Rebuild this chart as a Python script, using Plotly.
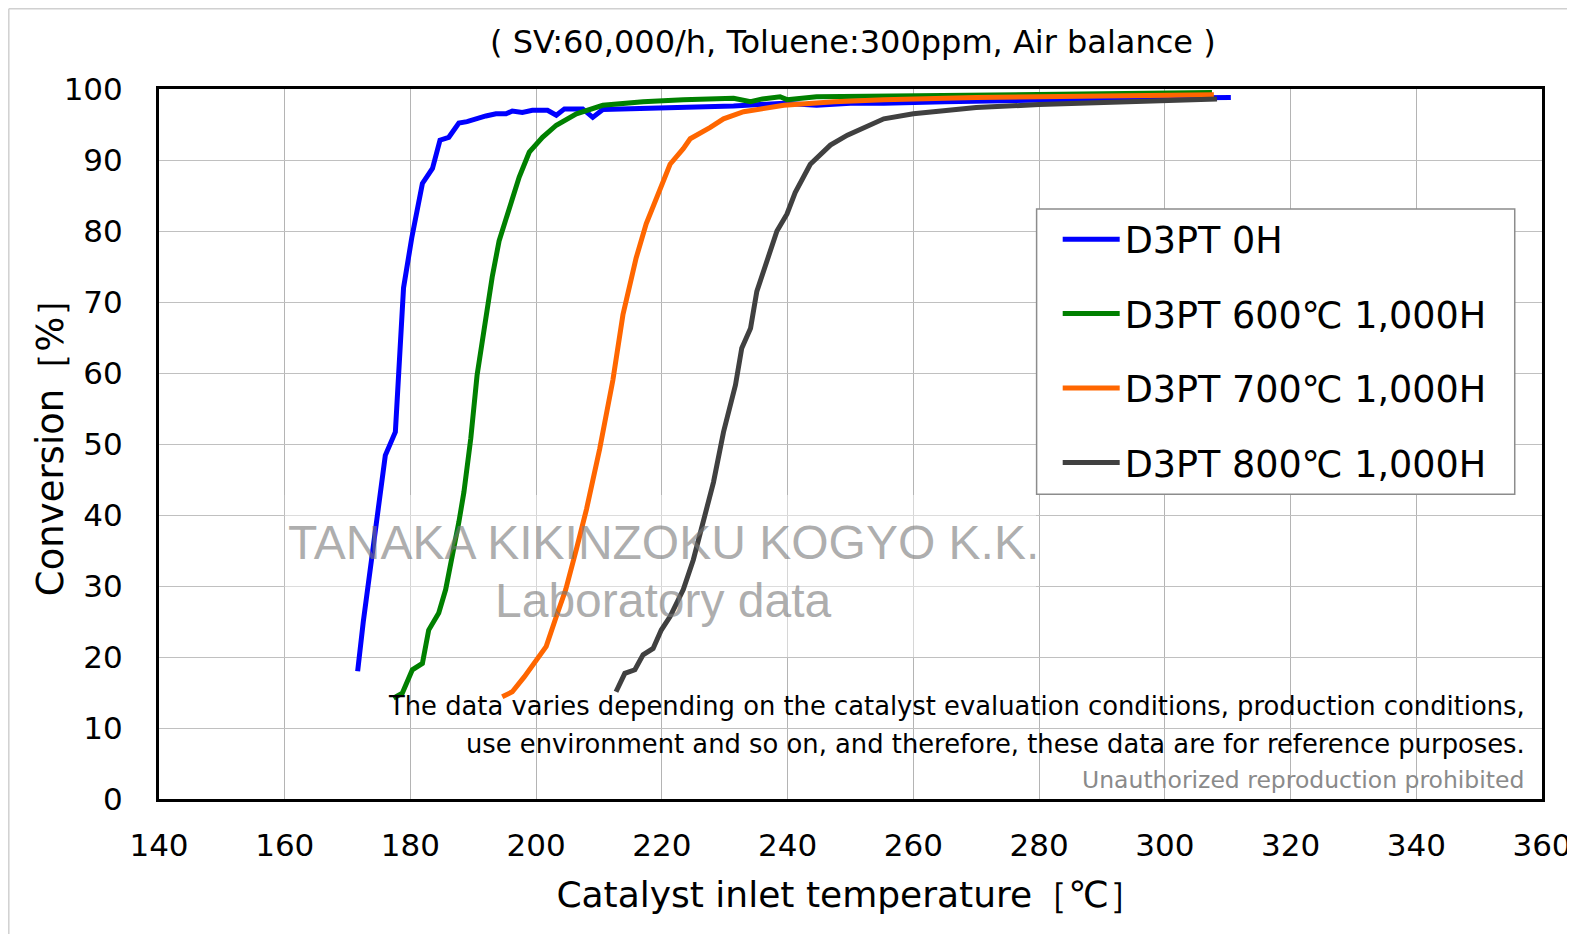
import plotly.graph_objects as go

# ---------------- data ----------------
series_names = ["D3PT 0H", "D3PT 600℃ 1,000H", "D3PT 700℃ 1,000H", "D3PT 800℃ 1,000H"]
series_colors = ["#0000FF", "#008000", "#FF6600", "#404040"]

t_0h = [171.6, 172.5, 174.0, 175.2, 176.0, 177.6, 178.1, 178.9, 180.2, 181.9, 183.5, 184.7, 186.1,
        187.7, 189.0, 190.3, 192.0, 193.6, 195.2, 196.2, 197.8, 199.4, 201.8, 203.2, 204.5, 207.4,
        209.0, 210.6, 217.0, 223.4, 231.4, 239.4, 244.6, 250.0, 255.3, 265.0, 280.0, 295.0, 310.5]
c_0h = [18.0, 25.0, 35.0, 42.5, 48.4, 51.7, 59.8, 72.0, 79.0, 86.7, 88.8, 92.8, 93.2,
        95.2, 95.4, 95.8, 96.2, 96.5, 96.5, 96.9, 96.7, 97.0, 97.0, 96.3, 97.2, 97.2,
        96.0, 97.1, 97.2, 97.4, 97.6, 98.0, 97.7, 98.0, 98.0, 98.2, 98.5, 98.7, 98.8]

t_600 = [177.3, 178.7, 180.3, 181.9, 182.9, 184.5, 185.6, 186.8, 187.7, 188.5, 189.6, 190.6, 192.0,
         193.0, 194.1, 195.7, 197.3, 198.9, 201.0, 203.2, 206.4, 210.6, 217.0, 223.4, 231.4, 234.1,
         236.0, 238.8, 239.9, 244.6, 255.3, 270.0, 285.0, 300.0, 307.5]
c_600 = [14.2, 14.9, 18.2, 19.1, 23.8, 26.2, 29.5, 34.5, 39.0, 43.2, 50.8, 59.7, 68.2,
         73.5, 78.6, 83.3, 87.6, 91.1, 93.2, 94.9, 96.5, 97.7, 98.2, 98.5, 98.7, 98.2,
         98.6, 98.9, 98.5, 98.9, 99.0, 99.2, 99.3, 99.4, 99.5]

t_700 = [194.6, 196.2, 198.1, 199.4, 201.6, 203.2, 204.7, 206.4, 208.0, 210.1, 212.2, 213.8, 215.9,
         217.5, 219.1, 221.3, 223.4, 224.5, 227.7, 229.8, 233.0, 239.4, 247.4, 255.3, 270.0, 285.0,
         300.0, 307.8]
c_700 = [14.4, 15.1, 17.2, 18.9, 21.5, 25.7, 29.5, 35.2, 40.8, 49.3, 59.0, 68.2, 76.2,
         81.0, 84.7, 89.4, 91.6, 93.0, 94.6, 95.8, 96.8, 97.7, 98.2, 98.5, 98.8, 99.0,
         99.1, 99.2]

t_800 = [212.7, 214.1, 215.7, 217.0, 218.6, 219.9, 221.3, 223.4, 225.0, 226.6, 228.2, 229.8, 231.7,
         232.7, 234.1, 235.1, 236.7, 238.3, 239.9, 241.2, 243.6, 246.8, 249.5, 252.2, 255.3, 260.0,
         265.0, 270.0, 280.0, 290.0, 300.0, 308.3]
c_800 = [15.1, 17.7, 18.2, 20.3, 21.2, 23.8, 25.7, 29.5, 33.7, 39.0, 44.6, 51.7, 58.3,
         63.5, 66.3, 71.5, 75.8, 80.0, 82.4, 85.4, 89.4, 92.1, 93.5, 94.6, 95.8, 96.5,
         97.0, 97.4, 97.8, 98.1, 98.4, 98.6]

series_t = [t_0h, t_600, t_700, t_800]
series_c = [c_0h, c_600, c_700, c_800]

x_ticks = [140, 160, 180, 200, 220, 240, 260, 280, 300, 320, 340, 360]
y_ticks = [0, 10, 20, 30, 40, 50, 60, 70, 80, 90, 100]

title_text = "( SV:60,000/h, Toluene:300ppm, Air balance )"
x_title = "Catalyst inlet temperature［℃］"
y_title = "Conversion［%］"
watermark_1 = "TANAKA KIKINZOKU KOGYO K.K."
watermark_2 = "Laboratory data"
note_1 = "The data varies depending on the catalyst evaluation conditions, production conditions,"
note_2 = "use environment and so on, and therefore, these data are for reference purposes."
note_3 = "Unauthorized reproduction prohibited"

FONT = "DejaVu Sans"

# Page body has an 8px default margin; the figure is sized to fit the window.
OFF = 8
S = 1575 / 1568          # reference measurements were taken on a 1568-wide view
W, H = 1575 - OFF, 934 - OFF


def fx(r):   # reference x -> figure pixel
    return r * S - OFF


def fy(r):   # reference y -> figure pixel
    return r * S - OFF


ML = round(fx(158))
MT = round(fy(89))
MR = round(W - fx(1535))
MB = round(H - fy(795))
PW, PH = W - ML - MR, H - MT - MB


def px(r):
    return (fx(r) - ML) / PW


def py(r):
    return (H - MB - fy(r)) / PH


# ---------------- figure ----------------
fig = go.Figure()
for i, (name, col, t, c) in enumerate(zip(series_names, series_colors, series_t, series_c)):
    fig.add_trace(go.Scatter(
        x=t, y=c, mode="lines", name=name, legendgroup=f"g{i}",
        line=dict(color=col, width=5),
    ))

fig.update_layout(
    width=W, height=H,
    margin=dict(l=ML, r=MR, t=MT, b=MB, autoexpand=False),
    paper_bgcolor="white", plot_bgcolor="white",
    font=dict(family=FONT, color="black", size=31),
    showlegend=True,
    legend=dict(
        x=px(1053), y=py(208), xanchor="left", yanchor="top",
        bgcolor="rgba(0,0,0,0)", borderwidth=0,
        font=dict(family=FONT, size=36.5, color="black"),
        traceorder="grouped", tracegroupgap=24,
        itemwidth=57,
    ),
    xaxis=dict(
        range=[140, 360], tickvals=x_ticks, ticktext=[str(v) for v in x_ticks],
        showgrid=True, gridcolor="#b4b4b4", gridwidth=1.3,
        showline=True, linecolor="black", linewidth=3, mirror=True,
        zeroline=False, ticks="", ticklabelstandoff=17, automargin=False,
        tickfont=dict(family=FONT, size=31),
        title=dict(text=x_title, font=dict(family=FONT, size=36), standoff=20),
    ),
    yaxis=dict(
        range=[0, 100], tickvals=y_ticks, ticktext=[str(v) for v in y_ticks],
        showgrid=True, gridcolor="#c0c0c0", gridwidth=1.3,
        showline=True, linecolor="black", linewidth=3, mirror=True,
        zeroline=False, ticks="", ticklabelstandoff=27, automargin=False,
        tickfont=dict(family=FONT, size=31),
    ),
)

# semi-transparent white panel behind watermark
fig.add_shape(type="rect", xref="x", yref="y", x0=160.0, x1=279.5, y0=20.0, y1=42.8,
              fillcolor="rgba(255,255,255,0.45)", line=dict(width=0), layer="between")

# legend box
fig.add_shape(type="rect", xref="paper", yref="paper", x0=px(1032), x1=px(1508), y0=py(492), y1=py(208),
              fillcolor="white", line=dict(color="#8c8c8c", width=1.5), layer="above")

# page border (left and top), drawn at the figure's edge
edge_x = (0.8 - ML) / PW
edge_y = (H - MB - 0.8) / PH
fig.add_shape(type="line", xref="paper", yref="paper", x0=edge_x, x1=1.2, y0=edge_y, y1=edge_y,
              line=dict(color="#d0d0d0", width=1.5))
fig.add_shape(type="line", xref="paper", yref="paper", x0=edge_x, x1=edge_x, y0=edge_y, y1=-0.3,
              line=dict(color="#d0d0d0", width=1.5))

annotations = [
    dict(text=title_text, xref="paper", yref="paper", x=px(849), y=py(42), xanchor="center",
         yanchor="middle", showarrow=False, font=dict(family=FONT, size=32)),
    dict(text=y_title, xref="paper", yref="paper", x=px(51), y=py(436), xanchor="center",
         yanchor="middle", textangle=-90, showarrow=False, font=dict(family=FONT, size=37)),
    dict(text=watermark_1, xref="x", yref="y", x=220.3, y=36.1, xanchor="center", yanchor="middle",
         showarrow=False, font=dict(family="Liberation Sans", size=48, color="rgba(120,120,120,0.6)")),
    dict(text=watermark_2, xref="x", yref="y", x=220.3, y=27.9, xanchor="center", yanchor="middle",
         showarrow=False, font=dict(family="Liberation Sans", size=48, color="rgba(120,120,120,0.6)")),
    dict(text=note_1, xref="paper", yref="paper", x=px(1520), y=py(703), xanchor="right", yanchor="middle",
         showarrow=False, font=dict(family=FONT, size=25.8)),
    dict(text=note_2, xref="paper", yref="paper", x=px(1520), y=py(741), xanchor="right", yanchor="middle",
         showarrow=False, font=dict(family=FONT, size=25.8)),
    dict(text=note_3, xref="paper", yref="paper", x=px(1519), y=py(777), xanchor="right", yanchor="middle",
         showarrow=False, font=dict(family=FONT, size=23.5, color="#8a8a8a")),
]
fig.update_layout(annotations=annotations)

fig.write_html("out.html")
